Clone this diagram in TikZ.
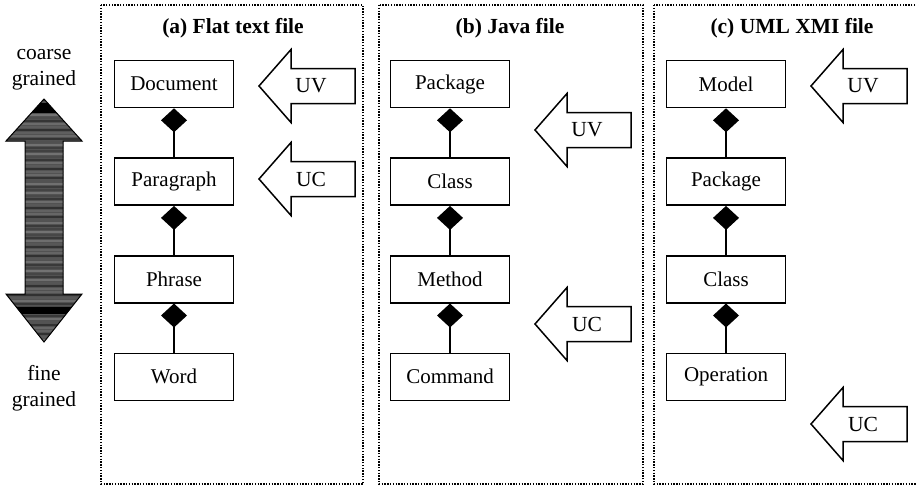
\documentclass[tikz,border=0pt]{standalone}
\usepackage{fontspec}
\setmainfont{Liberation Serif}
\usetikzlibrary{positioning,arrows.meta}

\begin{document}
\begin{tikzpicture}[x=1pt, y=-1pt,
  panel/.style={line width=1.4pt, dash pattern=on 1.4pt off 1.4pt},
  cls/.style={draw, line width=1.6pt, minimum width=119pt, minimum height=47pt,
    inner sep=0pt, font=\fontsize{21}{24}\selectfont},
  head/.style={font=\bfseries\fontsize{21.5}{25}\selectfont, inner sep=0pt},
  lbl/.style={font=\fontsize{21.5}{26}\selectfont, inner sep=0pt},
  part/.style={line width=1.4pt, -{Diamond[length=24pt, width=26pt]}},
  blk/.style={line width=1.5pt, line join=miter},
  node distance=49pt]
 \useasboundingbox (0,0) rectangle (917,487);

 % the three dotted frames
 \draw[panel] (101,5) rectangle (363,484);
 \draw[panel] (379,5) rectangle (643,484);
 \draw[panel] (654,5) rectangle (930,484);
 \node[head] (ta) at (233,28) {(a) Flat text file};
 \node[head] (tb) at (510,28) {(b) Java file};
 \node[head] (tc) at (792,28) {(c) UML XMI file};

 % granularity scale
 \begin{scope}
  \clip (44,99) -- (82,141) -- (63,141) -- (63,294) -- (82,294) -- (44,342)
   -- (6,294) -- (25,294) -- (25,141) -- (6,141) -- cycle;
  \fill[black!68] (0,95) rectangle (90,345);
  \foreach \y in {99,102,...,342}{
   \pgfmathsetmacro\s{68+13*sin(\y*37)}
   \fill[black!\s] (0,\y) rectangle (90,\y+2);
  }
  \fill[black] (0,103) rectangle (90,113);
  \fill[black] (0,307) rectangle (90,314);
 \end{scope}
 \draw[line width=1pt, line join=miter] (44,99) -- (82,141) -- (63,141) -- (63,294)
  -- (82,294) -- (44,342) -- (6,294) -- (25,294) -- (25,141) -- (6,141) -- cycle;
 \node[lbl, align=center, anchor=south] (coarse) at (44,90) {coarse\\grained};
 \node[lbl, align=center, anchor=north] (fine) at (44,365) {fine\\grained};

 % (a)
 \node[cls] (doc) at (174,84) {Document};
 \node[cls, below=of doc] (para) {Paragraph};
 \node[cls, below=of para] (phrase) {Phrase};
 \node[cls, below=of phrase] (word) {Word};
 \draw[part] (para) -- (doc);
 \draw[part] (phrase) -- (para);
 \draw[part] (word) -- (phrase);

 % (b)
 \node[cls] (pkg) at (450,84) {Package};
 \node[cls, below=of pkg] (cls) {Class};
 \node[cls, below=of cls] (meth) {Method};
 \node[cls, below=of meth] (cmd) {Command};
 \draw[part] (cls) -- (pkg);
 \draw[part] (meth) -- (cls);
 \draw[part] (cmd) -- (meth);

 % (c)
 \node[cls] (model) at (726,84) {Model};
 \node[cls, below=of model] (upkg) {Package};
 \node[cls, below=of upkg] (ucls) {Class};
 \node[cls, below=of ucls] (oper) {Operation};
 \draw[part] (upkg) -- (model);
 \draw[part] (ucls) -- (upkg);
 \draw[part] (oper) -- (ucls);

 % UV / UC block arrows
 \foreach \nm/\tx/\ty/\lab in {uva/259/86/UV, uca/259/179/UC, uvb/535/130/UV,
   ucb/535/324/UC, uvc/811/86/UV, ucc/811/424/UC}{
  \draw[blk] (\tx,\ty) -- ++(32,-36.5) -- ++(0,19) -- ++(64,0) -- ++(0,35)
   -- ++(-64,0) -- ++(0,19) -- cycle;
  \node[lbl] (\nm) at (\tx+52,\ty) {\lab};
 }
\end{tikzpicture}
\end{document}
